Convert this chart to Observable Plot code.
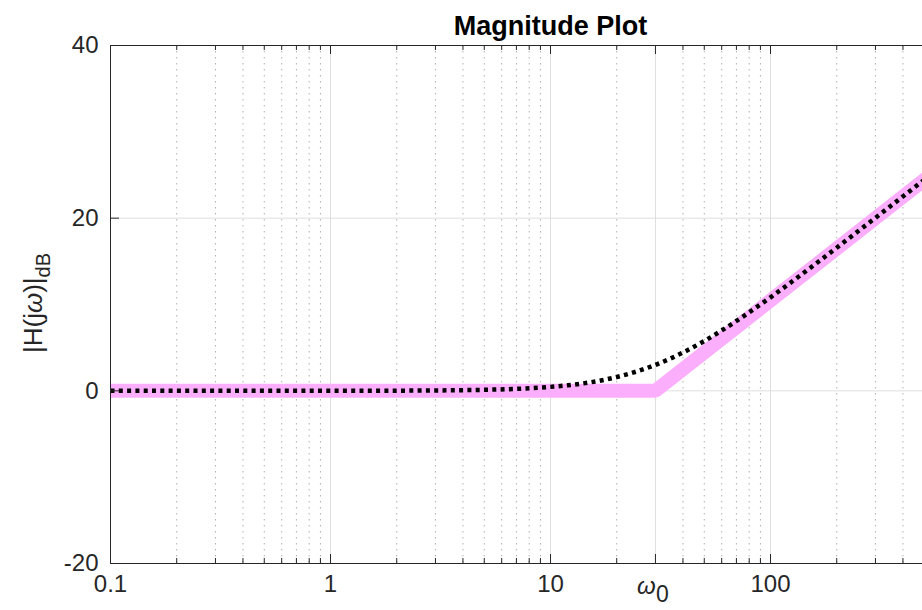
<!DOCTYPE html>
<html><head><meta charset="utf-8">
<script src="https://cdn.jsdelivr.net/npm/d3@7"></script>
<script src="https://cdn.jsdelivr.net/npm/@observablehq/plot@0.6"></script>
<style>
html,body{margin:0;padding:0;background:#fff;overflow:hidden}
#wrap{width:922px;height:610px;overflow:hidden;position:relative}
#wrap svg{max-width:none !important}
</style></head><body><div id="wrap"></div>
<script>
// ---- data ----
const omega0 = 30;
const freq  = [0.1,0.2,0.5,1,2,3,5,7,10,12,15,18,20,25,30,35,40,50,60,70,80,100,120,150,200,250,300,400,500,700,1000];
const magDb = [0,0,0,0.005,0.019,0.043,0.119,0.23,0.458,0.645,0.969,1.335,1.597,2.291,3.01,3.731,4.437,5.772,6.99,8.092,9.091,10.83,12.3,14.15,16.58,18.48,20.04,22.52,24.45,27.37,30.46];
const asymFreq = [0.1, 30, 1000];
const asymDb   = [0, 0, 30.46];
const majorX = [0.1, 1, 10, 30, 100, 1000];
const minorX = [0.2,0.3,0.4,0.5,0.6,0.7,0.8,0.9,2,3,4,5,6,7,8,9,20,40,50,60,70,80,90,200,300,400,500,600,700,800,900];
const xTickValues = [0.1, 1, 10, 100];
const xTickLabels = ["0.1", "1", "10", "100"];
const yTicks = [-20, 0, 20, 40];
const yGrid = [0, 20];
const titleText = "Magnitude Plot";

const curve = freq.map((f, i) => ({f, db: magDb[i]}));
const asym = asymFreq.map((f, i) => ({f, db: asymDb[i]}));
const xLabels = xTickValues.map((v, i) => ({v, label: xTickLabels[i]}));

const ink = "#262626";
const plot = Plot.plot({
  width: 1000, height: 610,
  marginLeft: 110, marginRight: 10, marginTop: 45, marginBottom: 47,
  style: {fontFamily: "'Liberation Sans', Arial, sans-serif", background: "white", maxWidth: "none", overflow: "visible"},
  x: {type: "log", domain: [0.1, 1000], axis: null},
  y: {domain: [-20, 40], axis: null},
  marks: [
    Plot.ruleX(minorX, {x: d => d, stroke: "#b0b0b0", strokeDasharray: "1.5,4.5", strokeWidth: 1}),
    Plot.ruleX(majorX, {x: d => d, stroke: "#dedede", strokeWidth: 1}),
    Plot.ruleY(yGrid, {y: d => d, stroke: "#dedede", strokeWidth: 1}),
    Plot.line(asym, {x: "f", y: "db", stroke: "#fbaefb", strokeWidth: 14, strokeLinejoin: "miter", strokeLinecap: "butt"}),
    Plot.line(curve, {x: "f", y: "db", stroke: "black", strokeWidth: 4.5, strokeDasharray: "4,4.3", strokeLinecap: "butt", curve: "monotone-x"}),
    Plot.frame({stroke: ink, strokeWidth: 1}),
    Plot.tickX(majorX, {x: d => d, stroke: ink, insetTop: 509}),
    Plot.tickX(majorX, {x: d => d, stroke: ink, insetBottom: 509}),
    Plot.tickX(minorX, {x: d => d, stroke: ink, insetTop: 513}),
    Plot.tickX(minorX, {x: d => d, stroke: ink, insetBottom: 513}),
    Plot.tickY(yTicks, {y: d => d, stroke: ink, insetRight: 871}),
    Plot.text(xLabels, {x: "v", text: "label", frameAnchor: "bottom", lineAnchor: "top", dy: 11, fontSize: 24, fill: ink}),
    Plot.text([omega0], {x: d => d, text: () => "ω", frameAnchor: "bottom", lineAnchor: "top", dy: 13, dx: -9, fontSize: 24, fontStyle: "italic", fill: ink}),
    Plot.text([omega0], {x: d => d, text: () => "0", frameAnchor: "bottom", lineAnchor: "top", dy: 22, dx: 7, fontSize: 23, fill: ink}),
    Plot.text(yTicks, {y: d => d, text: d => String(d), frameAnchor: "left", textAnchor: "end", dx: -12, fontSize: 24, fill: ink}),
    Plot.text([titleText], {text: d => d, frameAnchor: "top", lineAnchor: "bottom", dy: -11, fontSize: 27, fontWeight: "bold", fill: "black"})
  ]
});

// y-axis label with italic omega and subscript
const svg = d3.select(plot);
const t = svg.append("text")
  .attr("transform", "translate(42,303) rotate(-90)")
  .attr("text-anchor", "middle")
  .attr("font-size", 26)
  .attr("fill", ink);
t.append("tspan").text("|H(j");
t.append("tspan").attr("font-style", "italic").text("ω");
t.append("tspan").text(")|");
t.append("tspan").attr("dy", 8).attr("font-size", 20).text("dB");

document.getElementById("wrap").appendChild(plot);
</script>
</body></html>
